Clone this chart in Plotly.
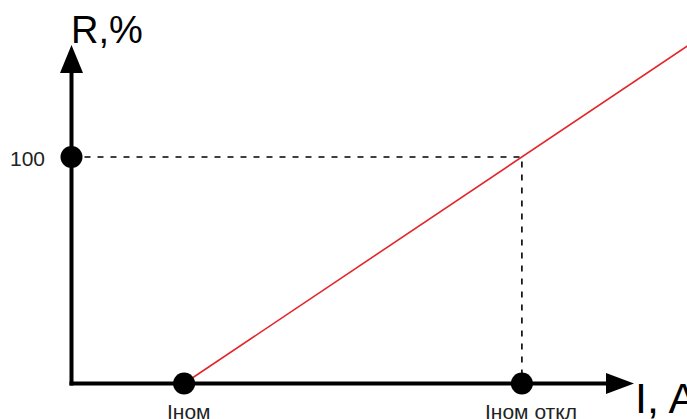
import plotly.graph_objects as go

# ---- data (in chart units) ----
I_nom = 1.0          # nominal current
I_off = 4.0          # nominal trip current
R_at_off = 100.0     # R, % at I_off
I_end = 5.47         # line continues to right edge

line_I = [I_nom, I_off, I_end]
line_R = [R_at_off * (i - I_nom) / (I_off - I_nom) for i in line_I]

point_I = [0.0, I_nom, I_off]
point_R = [R_at_off, 0.0, 0.0]

y_tick_label = "100"
x_labels = ["Iном", "Iном откл"]
axis_titles = ["R,%", "I, A"]

W, H = 687, 419
X0PX, XSCALE = 71.5, 112.6     # pixel of I=0, px per unit
Y0PX, YSCALE = 383.5, 2.265    # pixel of R=0, px per %

def dx(px):
    return (px - X0PX) / XSCALE

def dy(py):
    return (Y0PX - py) / YSCALE

fig = go.Figure()

# red characteristic line
fig.add_trace(go.Scatter(x=line_I, y=line_R, mode="lines",
                         line=dict(color="#e3262b", width=1.6),
                         hoverinfo="skip", showlegend=False))

# dashed guide lines
fig.add_trace(go.Scatter(x=[point_I[0], I_off, I_off], y=[R_at_off, R_at_off, 0],
                         mode="lines",
                         line=dict(color="black", width=1.6, dash="6px,7px"),
                         hoverinfo="skip", showlegend=False))

# black points
fig.add_trace(go.Scatter(x=point_I, y=point_R, mode="markers",
                         marker=dict(color="black", size=22),
                         hoverinfo="skip", showlegend=False))

shapes = []
# axes shafts
shapes.append(dict(type="line", xref="x", yref="y", x0=0, x1=0,
                   y0=dy(Y0PX + 2), y1=dy(72), line=dict(color="black", width=4), layer="below"))
shapes.append(dict(type="line", xref="x", yref="y", x0=dx(X0PX - 2), x1=dx(608),
                   y0=0, y1=0, line=dict(color="black", width=4), layer="below"))
# arrow heads
tipy, basey, hw = 45, 73, 11.5
shapes.append(dict(type="path", xref="x", yref="y",
                   path=f"M {dx(X0PX)} {dy(tipy)} L {dx(X0PX - hw)} {dy(basey)} L {dx(X0PX + hw)} {dy(basey)} Z",
                   fillcolor="black", line=dict(color="black", width=0), layer="below"))
tipx, basex, hh = 634, 606, 10.5
shapes.append(dict(type="path", xref="x", yref="y",
                   path=f"M {dx(tipx)} {dy(Y0PX)} L {dx(basex)} {dy(Y0PX - hh)} L {dx(basex)} {dy(Y0PX + hh)} Z",
                   fillcolor="black", line=dict(color="black", width=0), layer="below"))

FONT = "Liberation Sans, Arial, sans-serif"
annotations = [
    dict(text=axis_titles[0], xref="paper", yref="paper", x=69 / W, y=1 - 7 / H,
         xanchor="left", yanchor="top", showarrow=False,
         font=dict(family=FONT, size=38, color="black")),
    dict(text=axis_titles[1], xref="paper", yref="paper", x=633 / W, y=1 - 372 / H,
         xanchor="left", yanchor="top", showarrow=False,
         font=dict(family=FONT, size=43, color="black")),
    dict(text=y_tick_label, xref="paper", yref="y", x=8 / W, y=R_at_off,
         xanchor="left", yanchor="middle", showarrow=False, yshift=-1,
         font=dict(family=FONT, size=21, color="#222")),
    dict(text=x_labels[0], xref="paper", yref="paper", x=165 / W, y=1 - 398 / H,
         xanchor="left", yanchor="top", showarrow=False,
         font=dict(family=FONT, size=21, color="#222")),
    dict(text=x_labels[1], xref="paper", yref="paper", x=483 / W, y=1 - 398 / H,
         xanchor="left", yanchor="top", showarrow=False,
         font=dict(family=FONT, size=21, color="#222")),
]

fig.update_layout(
    width=W, height=H,
    margin=dict(l=0, r=0, t=0, b=0),
    paper_bgcolor="white", plot_bgcolor="white",
    xaxis=dict(range=[dx(0), dx(W)], visible=False, fixedrange=True),
    yaxis=dict(range=[dy(H), dy(0)], visible=False, fixedrange=True),
    shapes=shapes, annotations=annotations,
    showlegend=False,
)

fig.write_html("out.html", config={"displayModeBar": False},
               post_script="document.body.style.margin='0';document.body.style.overflow='hidden';")
